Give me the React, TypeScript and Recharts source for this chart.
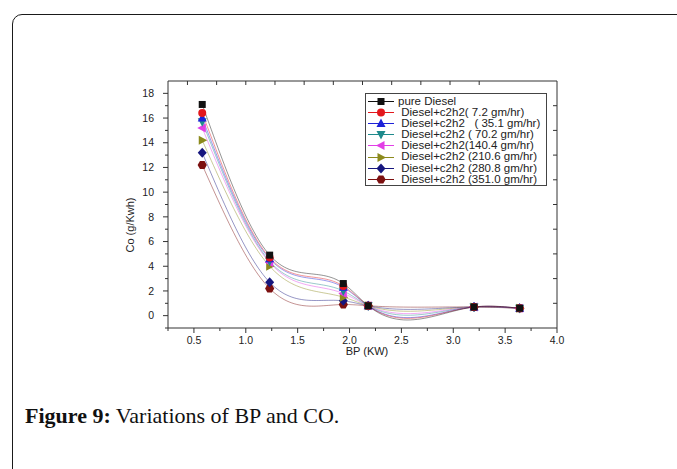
import { LineChart, Line, XAxis, YAxis, Legend } from "recharts";

// BP (KW) load points
const bpValues = [0.58, 1.23, 1.94, 2.18, 3.2, 3.64];

// CO (g/Kwh) per fuel
const pureDiesel = [17.1, 4.9, 2.6, 0.8, 0.7, 0.6];
const c2h2At7_2 = [16.4, 4.7, 2.4, 0.8, 0.7, 0.6];
const c2h2At35_1 = [16.0, 4.6, 2.3, 0.8, 0.7, 0.6];
const c2h2At70_2 = [15.7, 4.4, 2.0, 0.8, 0.7, 0.6];
const c2h2At140_4 = [15.2, 4.3, 1.8, 0.8, 0.7, 0.6];
const c2h2At210_6 = [14.2, 4.0, 1.5, 0.8, 0.7, 0.6];
const c2h2At280_8 = [13.2, 2.7, 1.2, 0.8, 0.7, 0.6];
const c2h2At351_0 = [12.2, 2.2, 0.9, 0.8, 0.7, 0.6];

const seriesNames = [
  "pure Diesel",
  " Diesel+c2h2( 7.2 gm/hr)",
  " Diesel+c2h2   ( 35.1 gm/hr)",
  " Diesel+c2h2 ( 70.2 gm/hr)",
  " Diesel+c2h2(140.4 gm/hr)",
  " Diesel+c2h2 (210.6 gm/hr)",
  " Diesel+c2h2 (280.8 gm/hr)",
  " Diesel+c2h2 (351.0 gm/hr)",
];

const xMajorTicks = [0.5, 1.0, 1.5, 2.0, 2.5, 3.0, 3.5, 4.0];
const xMinorTicks = [0.25, 0.75, 1.25, 1.75, 2.25, 2.75, 3.25, 3.75];
const yMajorTicks = [0, 2, 4, 6, 8, 10, 12, 14, 16, 18];
const yMinorTicks = [-1, 1, 3, 5, 7, 9, 11, 13, 15, 17];
const topTicks = [0.25, 0.625, 1.0, 1.375, 1.75, 2.125, 2.5, 2.875, 3.25, 3.625, 4.0];
const rightTicks = [1, 3, 5, 7, 9, 11, 13, 15, 17];

const sans = "'Liberation Sans', Arial, sans-serif";
const axisColor = "#333";

type Shape = "square" | "circle" | "up" | "down" | "left" | "right" | "diamond" | "hexagon";

const series: { key: string; values: number[]; color: string; shape: Shape }[] = [
  { key: "pure", values: pureDiesel, color: "#111111", shape: "square" },
  { key: "s7", values: c2h2At7_2, color: "#e3171c", shape: "circle" },
  { key: "s35", values: c2h2At35_1, color: "#1e22d8", shape: "up" },
  { key: "s70", values: c2h2At70_2, color: "#1f8a8c", shape: "down" },
  { key: "s140", values: c2h2At140_4, color: "#e23ee6", shape: "left" },
  { key: "s210", values: c2h2At210_6, color: "#8c8a1c", shape: "right" },
  { key: "s280", values: c2h2At280_8, color: "#16167e", shape: "diamond" },
  { key: "s351", values: c2h2At351_0, color: "#7c1010", shape: "hexagon" },
];

const data = bpValues.map((bp, i) => {
  const row: Record<string, number> = { bp };
  series.forEach((s) => (row[s.key] = s.values[i]));
  return row;
});

// natural cubic spline in x (like Origin's "Spline" connect), fed the scaled points
function xSpline(context: any) {
  let xs: number[] = [];
  let ys: number[] = [];
  return {
    areaStart() {},
    areaEnd() {},
    lineStart() {
      xs = [];
      ys = [];
    },
    point(x: number, y: number) {
      xs.push(+x);
      ys.push(+y);
    },
    lineEnd() {
      const n = xs.length;
      if (!n) return;
      context.moveTo(xs[0], ys[0]);
      if (n < 3) {
        for (let i = 1; i < n; i++) context.lineTo(xs[i], ys[i]);
        return;
      }
      const h = xs.slice(1).map((x, i) => x - xs[i]);
      const M = new Array(n).fill(0);
      const a: number[] = [], b: number[] = [], c: number[] = [], d: number[] = [];
      for (let i = 1; i < n - 1; i++) {
        a.push(h[i - 1]);
        b.push(2 * (h[i - 1] + h[i]));
        c.push(h[i]);
        d.push(6 * ((ys[i + 1] - ys[i]) / h[i] - (ys[i] - ys[i - 1]) / h[i - 1]));
      }
      const m = b.length;
      for (let i = 1; i < m; i++) {
        const w = a[i] / b[i - 1];
        b[i] -= w * c[i - 1];
        d[i] -= w * d[i - 1];
      }
      const sol = new Array(m).fill(0);
      sol[m - 1] = d[m - 1] / b[m - 1];
      for (let i = m - 2; i >= 0; i--) sol[i] = (d[i] - c[i] * sol[i + 1]) / b[i];
      for (let i = 0; i < m; i++) M[i + 1] = sol[i];
      const steps = 30;
      for (let i = 0; i < n - 1; i++) {
        for (let s = 1; s <= steps; s++) {
          const x = xs[i] + (h[i] * s) / steps;
          const A = (xs[i + 1] - x) / h[i];
          const B = 1 - A;
          const y = A * ys[i] + B * ys[i + 1] + (((A * A * A - A) * M[i] + (B * B * B - B) * M[i + 1]) * h[i] * h[i]) / 6;
          context.lineTo(x, y);
        }
      }
    },
  };
}

function Marker({ cx, cy, shape, color }: { cx: number; cy: number; shape: Shape; color: string }) {
  const pts = (arr: number[][]) => arr.map(([x, y]) => `${cx + x},${cy + y}`).join(" ");
  switch (shape) {
    case "square":
      return <rect x={cx - 3.5} y={cy - 3.5} width={7} height={7} fill={color} />;
    case "circle":
      return <circle cx={cx} cy={cy} r={4} fill={color} />;
    case "up":
      return <polygon points={pts([[0, -5], [4.5, 3.5], [-4.5, 3.5]])} fill={color} />;
    case "down":
      return <polygon points={pts([[0, 5], [4.5, -3.5], [-4.5, -3.5]])} fill={color} />;
    case "left":
      return <polygon points={pts([[-5, 0], [3.5, -4.5], [3.5, 4.5]])} fill={color} />;
    case "right":
      return <polygon points={pts([[5, 0], [-3.5, -4.5], [-3.5, 4.5]])} fill={color} />;
    case "diamond":
      return <polygon points={pts([[0, -5], [4.5, 0], [0, 5], [-4.5, 0]])} fill={color} />;
    default: {
      const hex = [0, 1, 2, 3, 4, 5].map((k) => {
        const ang = (Math.PI / 3) * k;
        return [4.6 * Math.cos(ang), 4.6 * Math.sin(ang)];
      });
      return <polygon points={pts(hex)} fill={color} />;
    }
  }
}

const BottomTick = (props: any) => {
  const { x, y, payload } = props;
  const major = xMajorTicks.includes(payload.value);
  return (
    <g>
      <line x1={x} x2={x} y1={y} y2={y + (major ? 5 : 3)} stroke={axisColor} />
      {major && (
        <text x={x} y={y + 16} textAnchor="middle" fontSize={10.5} fill="#222" fontFamily={sans}>
          {payload.value.toFixed(1)}
        </text>
      )}
    </g>
  );
};

const LeftTick = (props: any) => {
  const { x, y, payload } = props;
  const major = yMajorTicks.includes(payload.value);
  return (
    <g>
      <line x1={x} x2={x - (major ? 5 : 3)} y1={y} y2={y} stroke={axisColor} />
      {major && (
        <text x={x - 14} y={y} dy="0.35em" textAnchor="end" fontSize={10.5} fill="#222" fontFamily={sans}>
          {payload.value}
        </text>
      )}
    </g>
  );
};

const TopTick = (props: any) => {
  const { x, y } = props;
  return <line x1={x} x2={x} y1={y} y2={y + 4} stroke={axisColor} />;
};

const RightTick = (props: any) => {
  const { x, y } = props;
  return <line x1={x} x2={x - 4} y1={y} y2={y} stroke={axisColor} />;
};

const LegendBox = () => (
  <div
    style={{
      border: "1px solid #444",
      width: 182,
      height: 93,
      boxSizing: "border-box",
      paddingTop: 1.5,
      background: "#fff",
      fontFamily: sans,
      fontSize: 11.5,
      color: "#222",
    }}
  >
    {series.map((s, i) => (
      <div key={s.key} style={{ display: "flex", alignItems: "center", height: 11.2, whiteSpace: "pre", lineHeight: "11.2px" }}>
        <svg width={30} height={11} style={{ flex: "none" }}>
          <line x1={2} x2={28} y1={5.5} y2={5.5} stroke={s.color} strokeWidth={1} />
          <Marker cx={15} cy={5.5} shape={s.shape} color={s.color} />
        </svg>
        <span style={{ marginLeft: 2 }}>{seriesNames[i]}</span>
      </div>
    ))}
  </div>
);

export default function App() {
  return (
    <div style={{ position: "absolute", left: 0, top: 0, width: 677, height: 469, overflow: "hidden", background: "#fff" }}>
      {/* page frame */}
      <div
        style={{
          position: "absolute",
          left: 12,
          top: 14,
          width: 720,
          height: 520,
          border: "1.6px solid #1a1a1a",
          borderTopLeftRadius: 10,
          boxSizing: "border-box",
        }}
      />
      <div style={{ position: "absolute", left: 0, top: 0 }}>
        <LineChart width={677} height={469} data={data} margin={{ top: 80, right: 119, bottom: 101, left: 118 }}>
          <XAxis
            dataKey="bp"
            type="number"
            domain={[0.25, 4]}
            allowDataOverflow
            ticks={[...xMajorTicks, ...xMinorTicks].sort((p, q) => p - q)}
            interval={0}
            tickSize={0}
            tickMargin={0}
            tick={<BottomTick />}
            height={40}
            stroke={axisColor}
            label={() => (
              <text x={367} y={355} textAnchor="middle" fontSize={11} fill="#222" fontFamily={sans}>
                BP (KW)
              </text>
            )}
          />
          <XAxis
            xAxisId="top"
            orientation="top"
            type="number"
            domain={[0.25, 4]}
            allowDataOverflow
            ticks={topTicks}
            interval={0}
            tickSize={0}
            tickMargin={0}
            tick={<TopTick />}
            height={1}
            stroke={axisColor}
          />
          <YAxis
            type="number"
            domain={[-1, 19]}
            allowDataOverflow
            ticks={[...yMajorTicks, ...yMinorTicks].sort((p, q) => p - q)}
            interval={0}
            tickSize={0}
            tickMargin={0}
            tick={<LeftTick />}
            width={50}
            stroke={axisColor}
            label={() => (
              <text
                x={134}
                y={225}
                transform="rotate(-90 134 225)"
                textAnchor="middle"
                fontSize={11}
                fill="#222"
                fontFamily={sans}
              >
                Co (g/Kwh)
              </text>
            )}
          />
          <YAxis
            yAxisId="right"
            orientation="right"
            type="number"
            domain={[-1, 19]}
            allowDataOverflow
            ticks={rightTicks}
            interval={0}
            tickSize={0}
            tickMargin={0}
            tick={<RightTick />}
            width={1}
            stroke={axisColor}
          />
          <Legend
            layout="vertical"
            align="center"
            verticalAlign="middle"
            content={<LegendBox />}
            wrapperStyle={{ left: 365, top: 93, width: 182, height: 93 }}
          />
          {[...series].reverse().map((s) => (
            <Line
              key={s.key}
              dataKey={s.key}
              type={xSpline as any}
              stroke={s.color}
              strokeOpacity={0.5}
              strokeWidth={0.9}
              isAnimationActive={false}
              dot={(p: any) => <Marker key={`${s.key}-${p.index}`} cx={p.cx} cy={p.cy} shape={s.shape} color={s.color} />}
              activeDot={false}
            />
          ))}
        </LineChart>
      </div>
      <div
        style={{
          position: "absolute",
          left: 25,
          top: 403,
          fontFamily: "'Liberation Serif', 'DejaVu Serif', serif",
          fontSize: 22,
          color: "#111",
          whiteSpace: "nowrap",
        }}
      >
        <b>Figure 9:</b> Variations of BP and CO.
      </div>
    </div>
  );
}
